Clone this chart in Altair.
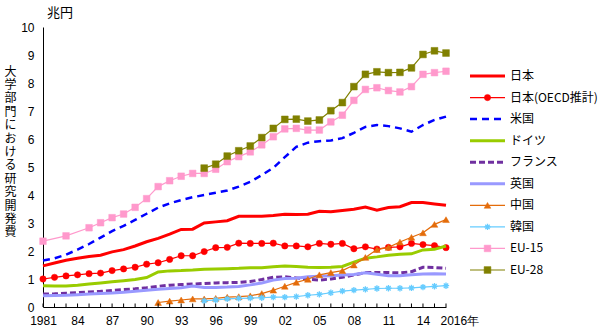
import altair as alt
import pandas as pd

JP = "Noto Sans CJK JP"
NUM = "Liberation Sans"

years = list(range(1981, 2017))
series_names = ["日本", "日本(OECD推計)", "米国", "ドイツ", "フランス", "英国", "中国", "韓国", "EU-15", "EU-28"]

japan = [1.47, 1.57, 1.67, 1.74, 1.80, 1.85, 1.97, 2.05, 2.18, 2.33, 2.45, 2.60, 2.77, 2.78, 3.00, 3.04, 3.08, 3.24,
         3.24, 3.24, 3.27, 3.31, 3.30, 3.31, 3.42, 3.40, 3.45, 3.49, 3.57, 3.46, 3.55, 3.58, 3.73, 3.73, 3.68, 3.63]
japan_oecd = [1.00, 1.06, 1.11, 1.15, 1.19, 1.21, 1.30, 1.36, 1.42, 1.53, 1.58, 1.70, 1.83, 1.83, 1.98, 2.12, 2.13, 2.28,
              2.27, 2.27, 2.28, 2.18, 2.18, 2.15, 2.27, 2.24, 2.27, 2.08, 2.15, 2.07, 2.13, 2.15, 2.27, 2.23, 2.19, 2.12]
usa = [1.66, 1.74, 1.87, 2.05, 2.25, 2.48, 2.71, 2.90, 3.11, 3.33, 3.55, 3.70, 3.82, 3.92, 4.00, 4.08, 4.16, 4.30,
       4.47, 4.71, 4.97, 5.35, 5.72, 5.87, 5.92, 5.95, 6.03, 6.22, 6.43, 6.50, 6.46, 6.38, 6.26, 6.50, 6.68, 6.80]
germany = [0.76, 0.75, 0.75, 0.78, 0.82, 0.86, 0.90, 0.94, 0.98, 1.05, 1.25, 1.29, 1.30, 1.32, 1.35, 1.36, 1.37, 1.38,
           1.40, 1.40, 1.44, 1.46, 1.45, 1.42, 1.41, 1.42, 1.45, 1.60, 1.74, 1.79, 1.85, 1.88, 1.90, 2.04, 2.06, 2.18]
france = [0.46, 0.47, 0.49, 0.51, 0.54, 0.56, 0.59, 0.62, 0.65, 0.69, 0.74, 0.78, 0.80, 0.82, 0.84, 0.86, 0.87, 0.88,
          0.91, 0.98, 1.06, 1.08, 1.04, 0.99, 0.96, 1.00, 1.06, 1.14, 1.23, 1.23, 1.23, 1.22, 1.26, 1.42, 1.41, 1.38]
uk = [0.40, 0.41, 0.42, 0.44, 0.46, 0.48, 0.50, 0.53, 0.56, 0.60, 0.63, 0.66, 0.69, 0.75, 0.70, 0.70, 0.71, 0.73,
      0.79, 0.86, 0.96, 1.02, 1.03, 1.08, 1.10, 1.12, 1.14, 1.16, 1.22, 1.17, 1.12, 1.12, 1.15, 1.18, 1.19, 1.18]
china_years = list(range(1991, 2017))
china = [0.16, 0.21, 0.25, 0.29, 0.29, 0.31, 0.35, 0.37, 0.40, 0.48, 0.60, 0.74, 0.88, 0.99, 1.15, 1.23, 1.30, 1.50,
         1.77, 2.05, 2.13, 2.32, 2.49, 2.65, 2.95, 3.12]
korea_years = list(range(1995, 2017))
korea = [0.22, 0.25, 0.29, 0.31, 0.32, 0.33, 0.35, 0.35, 0.37, 0.42, 0.45, 0.51, 0.57, 0.60, 0.63, 0.66, 0.67, 0.67,
         0.68, 0.71, 0.74, 0.76]
eu15_years = [1981, 1983] + list(range(1985, 2017))
eu15 = [2.35, 2.54, 2.83, 3.01, 3.19, 3.32, 3.56, 3.87, 4.30, 4.51, 4.67, 4.77, 4.77, 4.92, 5.19, 5.37, 5.54, 5.79,
        6.08, 6.36, 6.38, 6.32, 6.32, 6.61, 6.85, 7.38, 7.77, 7.83, 7.73, 7.68, 7.87, 8.31, 8.37, 8.42]
eu28_years = list(range(1995, 2017))
eu28 = [4.96, 5.10, 5.39, 5.58, 5.75, 6.05, 6.38, 6.70, 6.71, 6.64, 6.68, 7.01, 7.30, 7.87, 8.31, 8.40, 8.37, 8.38,
        8.54, 9.02, 9.15, 9.07]

tick_label_years = [1981, 1984, 1987, 1990, 1993, 1996, 1999, 2002, 2005, 2008, 2011, 2014, 2016]
y_ticks = list(range(0, 11))
y_title = list("大学部門における研究開発費")

colors = ["#ff0000", "#ff0000", "#0000ff", "#99cc00", "#7030a0", "#9999ff", "#e46c0a", "#66ccff", "#ff99cc", "#808000"]
widths = [3, 1.2, 2.5, 3, 3, 3, 1.2, 1.2, 1.2, 1.2]
dashes = [None, None, [7, 5], None, [6, 3], None, None, None, None, None]
ASTERISK = "M-1,0L1,0M0,-1L0,1M-0.7,-0.7L0.7,0.7M-0.7,0.7L0.7,-0.7"
shapes = [None, "circle", None, None, None, None, "triangle-up", ASTERISK, "square", "square"]
sizes = [0, 40, 0, 0, 0, 0, 45, 40, 44, 46]

series_data = [
    (years, japan), (years, japan_oecd), (years, usa), (years, germany), (years, france), (years, uk),
    (china_years, china), (korea_years, korea), (eu15_years, eu15), (eu28_years, eu28),
]
rows = []
for name, (ys, vs) in zip(series_names, series_data):
    for y, v in zip(ys, vs):
        rows.append({"series": name, "year": y, "value": v})
df = pd.DataFrame(rows)

x_enc = alt.X(
    "year:Q",
    scale=alt.Scale(domain=[1981, 2016], nice=False, zero=False),
    axis=alt.Axis(
        values=tick_label_years,
        labelExpr="datum.value == 1981 ? '1981' : (datum.value == 2016 ? '2016年' : substring(toString(datum.value), 2, 4))",
        tickSize=0, grid=False, title=None, domainColor="black", domainWidth=1,
        labelFont=NUM, labelFontSize=12, labelColor="black", labelPadding=8,
        labelFlush=False, labelOverlap=False,
        labelAlign={"condition": {"test": "datum.value == 2016", "value": "left"}, "value": "center"},
        labelOffset={"condition": {"test": "datum.value == 2016", "value": -6}, "value": 0},
    ),
)
y_enc = alt.Y(
    "value:Q",
    scale=alt.Scale(domain=[0, 10], nice=False),
    axis=alt.Axis(
        values=y_ticks, tickSize=0, grid=False, domainColor="black", domainWidth=1,
        labelFont=NUM, labelFontSize=12, labelColor="black", labelPadding=9,
        title=y_title, titleAngle=0, titleAlign="center", titleBaseline="top",
        titleX=-33, titleY=39, titleLineHeight=13.4, titleFont=JP, titleFontSize=12,
        titleFontWeight="normal", titleColor="black",
    ),
)

base = alt.Chart(df)
main_layers = []
for i, name in enumerate(series_names):
    kw = dict(color=colors[i], strokeWidth=widths[i])
    if dashes[i]:
        kw["strokeDash"] = dashes[i]
    main_layers.append(
        base.mark_line(**kw).encode(x=x_enc, y=y_enc).transform_filter(alt.datum.series == name)
    )
    if shapes[i]:
        filled = shapes[i] != ASTERISK
        pk = dict(shape=shapes[i], size=sizes[i], opacity=1)
        if filled:
            pk.update(filled=True, fill=colors[i], stroke=colors[i], strokeWidth=0.5)
        else:
            pk.update(filled=False, stroke=colors[i], strokeWidth=1.3)
        main_layers.append(
            base.mark_point(**pk).encode(x=x_enc, y=y_enc).transform_filter(alt.datum.series == name)
        )

ticks = alt.Chart(pd.DataFrame({"year": years})).mark_rule(color="black", strokeWidth=1).encode(
    x=x_enc, y=alt.value(280), y2=alt.value(276.5)
)
main = alt.layer(*main_layers, ticks)

# legend
leg_df = pd.DataFrame({"series": series_names})
leg_base = alt.Chart(leg_df)
leg_xscale = alt.Scale(domain=[0, 1], range=[427, 462])
leg_y = alt.Y("series:N", scale=alt.Scale(type="point", domain=series_names, range=[49, 243], padding=0), axis=None)
leg_layers = []
for i, name in enumerate(series_names):
    kw = dict(color=colors[i], strokeWidth=widths[i])
    if dashes[i]:
        kw["strokeDash"] = dashes[i]
    leg_layers.append(
        leg_base.mark_rule(**kw).encode(
            x=alt.XDatum(0, type="quantitative", scale=leg_xscale, axis=None),
            x2=alt.X2Datum(1),
            y=leg_y,
        ).transform_filter(alt.datum.series == name)
    )
    if shapes[i]:
        filled = shapes[i] != ASTERISK
        pk = dict(shape=shapes[i], size=sizes[i], opacity=1)
        if filled:
            pk.update(filled=True, fill=colors[i], stroke=colors[i], strokeWidth=0.5)
        else:
            pk.update(filled=False, stroke=colors[i], strokeWidth=1.3)
        leg_layers.append(
            leg_base.mark_point(**pk).encode(
                x=alt.XDatum(0.5, type="quantitative", scale=leg_xscale, axis=None),
                y=leg_y,
            ).transform_filter(alt.datum.series == name)
        )
leg_layers.append(
    leg_base.mark_text(align="left", baseline="middle", font=JP, fontSize=12, color="black").encode(
        x=alt.XDatum(1.14, type="quantitative", scale=leg_xscale, axis=None),
        y=leg_y,
        text="series:N",
    )
)
legend = alt.layer(*leg_layers)

chart = alt.layer(main, legend).resolve_scale(x="independent", y="independent").properties(
    width=403,
    height=280,
    padding={"left": 43, "top": 27, "right": 154, "bottom": 23},
    autosize=alt.AutoSizeParams(type="none"),
    title=alt.Title("兆円", anchor="start", frame="group", font=JP, fontSize=13, fontWeight="normal",
                    color="black", dx=4, offset=1),
    background="white",
).configure_view(stroke=None)

chart.save("out.html", embed_options={"renderer": "svg", "actions": False})
